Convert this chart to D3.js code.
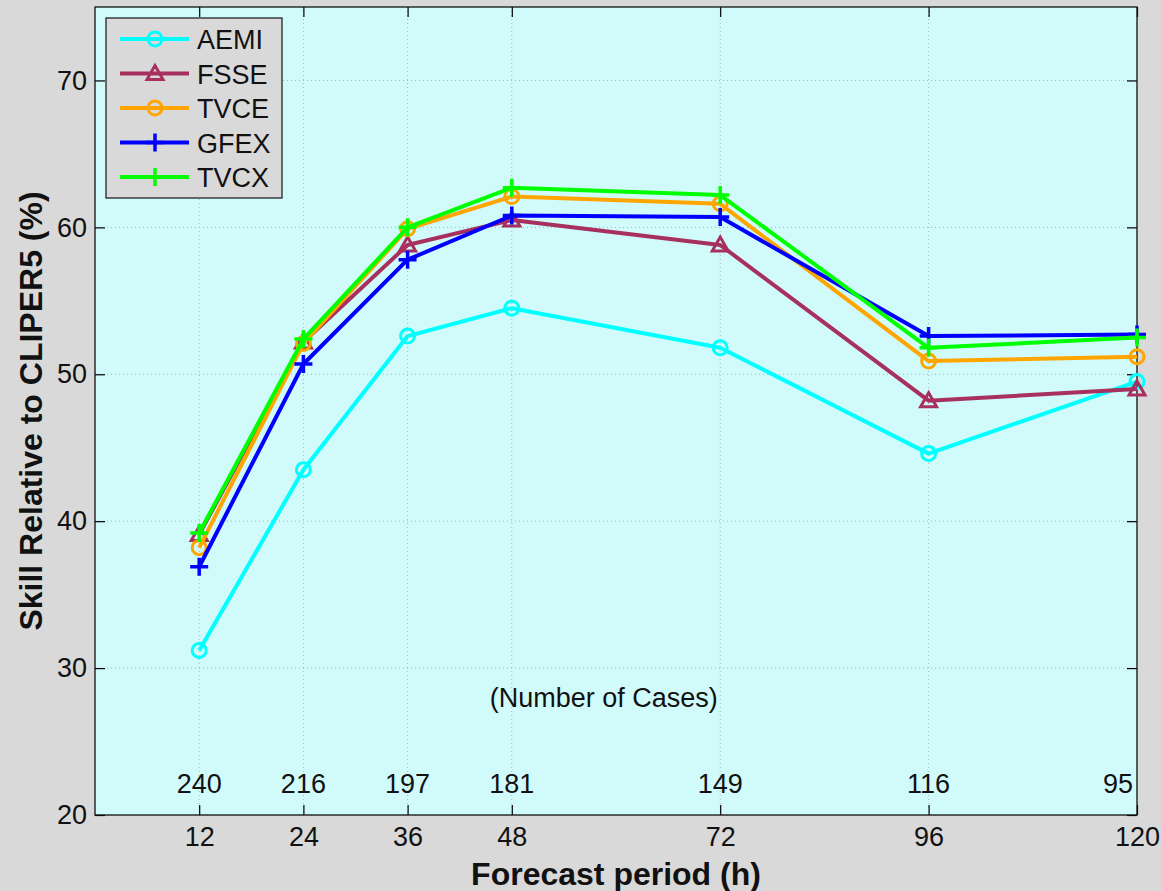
<!DOCTYPE html>
<html>
<head>
<meta charset="utf-8">
<script src="https://cdn.jsdelivr.net/npm/d3@7"></script>
<style>
  html, body { margin: 0; padding: 0; background: #d9d9d9; }
  svg { display: block; font-family: "Liberation Sans", Arial, Helvetica, sans-serif; }
</style>
</head>
<body>
<svg id="chart" width="1162" height="891"></svg>
<script>
// ---- data ----
const hours = [12, 24, 36, 48, 72, 96, 120];
const cases = [240, 216, 197, 181, 149, 116, 95];
const yTicks = [20, 30, 40, 50, 60, 70];
const seriesNames = ["AEMI", "FSSE", "TVCE", "GFEX", "TVCX"];
const AEMI = [31.2, 43.5, 52.6, 54.5, 51.8, 44.6, 49.5];
const FSSE = [39.1, 52.2, 58.8, 60.5, 58.8, 48.2, 49.0];
const TVCE = [38.2, 52.1, 59.9, 62.1, 61.6, 50.9, 51.2];
const GFEX = [36.9, 50.7, 57.8, 60.8, 60.7, 52.6, 52.7];
const TVCX = [39.2, 52.4, 60.0, 62.7, 62.2, 51.8, 52.5];
const seriesValues = [AEMI, FSSE, TVCE, GFEX, TVCX];
const seriesColors = ["#00ffff", "#a8305e", "#ffa500", "#0000ff", "#00ff00"];
const seriesMarkers = ["circle", "triangle", "circle", "plus", "plus"];
const xTitle = "Forecast period (h)";
const yTitle = "Skill Relative to CLIPER5 (%)";
const casesTitle = "(Number of Cases)";

// ---- layout ----
const L = 95, R = 1137, T = 7, B = 815;
const svg = d3.select("#chart");
svg.append("rect").attr("width", 1162).attr("height", 891).attr("fill", "#d9d9d9");

const x = d3.scaleLinear().domain([0, 120]).range([L, R]);
const y = d3.scaleLinear().domain([20, 75]).range([B, T]);

// plot background
svg.append("rect").attr("x", L).attr("y", T).attr("width", R - L).attr("height", B - T)
  .attr("fill", "#d1fbfb");

// grid
const grid = svg.append("g").attr("stroke", "#a9b4b4").attr("stroke-width", 1)
  .attr("stroke-dasharray", "1,3");
grid.selectAll("line.gx").data(hours).join("line")
  .attr("x1", d => x(d)).attr("x2", d => x(d)).attr("y1", T).attr("y2", B);
grid.selectAll("line.gy").data(yTicks).join("line")
  .attr("x1", L).attr("x2", R).attr("y1", d => y(d)).attr("y2", d => y(d));

// axes
const fs = 27;
function styleAxis(g, labels) {
  g.select(".domain").remove();
  g.selectAll(".tick line").attr("stroke", "#000").attr("stroke-width", 1.2);
  g.selectAll(".tick text").attr("fill", labels ? "#111" : "none")
    .style("font-size", fs + "px");
}
svg.append("g").attr("transform", `translate(0,${B})`)
  .call(d3.axisBottom(x).tickValues(hours).tickSizeInner(-10).tickSizeOuter(0).tickPadding(12).tickFormat(d3.format("d")))
  .call(g => styleAxis(g, true));
svg.append("g").attr("transform", `translate(0,${T})`)
  .call(d3.axisTop(x).tickValues(hours).tickSizeInner(-10).tickSizeOuter(0).tickFormat(""))
  .call(g => styleAxis(g, false));
svg.append("g").attr("transform", `translate(${L},0)`)
  .call(d3.axisLeft(y).tickValues(yTicks).tickSizeInner(-10).tickSizeOuter(0).tickPadding(8).tickFormat(d3.format("d")))
  .call(g => styleAxis(g, true));
svg.append("g").attr("transform", `translate(${R},0)`)
  .call(d3.axisRight(y).tickValues(yTicks).tickSizeInner(-10).tickSizeOuter(0).tickFormat(""))
  .call(g => styleAxis(g, false));
svg.selectAll(".tick text").attr("font-family", "Liberation Sans, Arial, sans-serif");

// border
svg.append("rect").attr("x", L).attr("y", T).attr("width", R - L).attr("height", B - T)
  .attr("fill", "none").attr("stroke", "#111").attr("stroke-width", 1.3);

// number of cases labels
svg.append("g").selectAll("text").data(hours).join("text")
  .attr("x", (d, i) => i === hours.length - 1 ? x(d) - 4 : x(d))
  .attr("y", 793)
  .attr("text-anchor", (d, i) => i === hours.length - 1 ? "end" : "middle")
  .attr("fill", "#111").style("font-size", fs + "px")
  .text((d, i) => cases[i]);
svg.append("text").attr("x", x(58.6)).attr("y", 707).attr("text-anchor", "middle")
  .attr("fill", "#111").style("font-size", fs + "px").text(casesTitle);

// markers
function drawMarker(g, type, cx, cy, color) {
  if (type === "circle") {
    g.append("circle").attr("cx", cx).attr("cy", cy).attr("r", 7)
      .attr("fill", "none").attr("stroke", color).attr("stroke-width", 3);
  } else if (type === "triangle") {
    const s = 8;
    g.append("path").attr("d", `M${cx},${cy - s} L${cx + s},${cy + s * 0.75} L${cx - s},${cy + s * 0.75} Z`)
      .attr("fill", "none").attr("stroke", color).attr("stroke-width", 3).attr("stroke-linejoin", "miter");
  } else {
    const s = 9;
    g.append("path").attr("d", `M${cx - s},${cy} H${cx + s} M${cx},${cy - s} V${cy + s}`)
      .attr("fill", "none").attr("stroke", color).attr("stroke-width", 3.5);
  }
}

// series
const line = d3.line().x((d, i) => x(hours[i])).y(d => y(d));
seriesValues.forEach((vals, si) => {
  const g = svg.append("g");
  g.append("path").datum(vals).attr("d", line).attr("fill", "none")
    .attr("stroke", seriesColors[si]).attr("stroke-width", 4).attr("stroke-linejoin", "round");
  vals.forEach((v, i) => drawMarker(g, seriesMarkers[si], x(hours[i]), y(v), seriesColors[si]));
});

// legend
const lg = svg.append("g");
lg.append("rect").attr("x", 106).attr("y", 18).attr("width", 176).attr("height", 180)
  .attr("fill", "#d9d9d9").attr("stroke", "#222").attr("stroke-width", 1.3);
seriesNames.forEach((name, i) => {
  const cy = 39 + i * 34.5;
  lg.append("line").attr("x1", 120).attr("x2", 189).attr("y1", cy).attr("y2", cy)
    .attr("stroke", seriesColors[i]).attr("stroke-width", 4);
  drawMarker(lg, seriesMarkers[i], 155, cy, seriesColors[i]);
  lg.append("text").attr("x", 197).attr("y", cy + 10).attr("fill", "#111")
    .style("font-size", "27px").text(name);
});

// axis titles
svg.append("text").attr("x", (L + R) / 2).attr("y", 885).attr("text-anchor", "middle")
  .attr("fill", "#111").style("font-size", "32px").style("font-weight", "bold")
  .text(xTitle);
svg.append("text").attr("transform", `translate(42,${(T + B) / 2}) rotate(-90)`)
  .attr("text-anchor", "middle").attr("fill", "#111")
  .style("font-size", "32px").style("font-weight", "bold")
  .text(yTitle);
</script>
</body>
</html>
